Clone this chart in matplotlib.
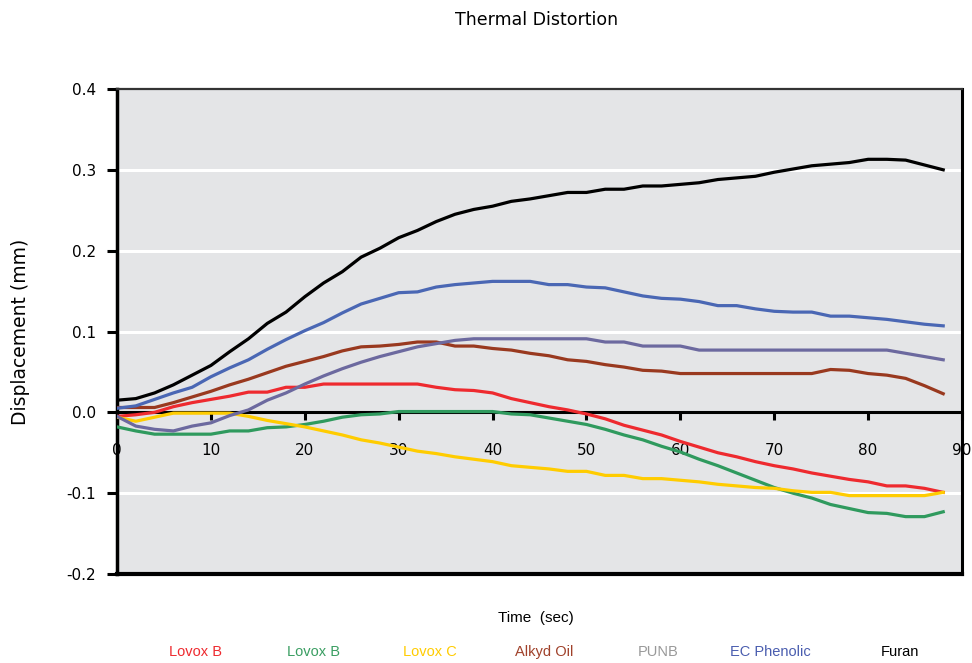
import numpy as np
import matplotlib
matplotlib.use('Agg')
from matplotlib import pyplot as plt

# tempo (s), leitura a cada 2 s
time_s = list(range(0, 89, 2))

lovox_b_red = [-0.005, -0.003, 0.000, 0.007, 0.012, 0.016, 0.020, 0.025, 0.025, 0.031,
               0.031, 0.035, 0.035, 0.035, 0.035, 0.035, 0.035, 0.031, 0.028, 0.027,
               0.024, 0.017, 0.012, 0.007, 0.003, -0.002, -0.008, -0.016, -0.022, -0.028,
               -0.036, -0.043, -0.050, -0.055, -0.061, -0.066, -0.070, -0.075, -0.079, -0.083,
               -0.086, -0.091, -0.091, -0.094, -0.099]
lovox_b_green = [-0.018, -0.023, -0.027, -0.027, -0.027, -0.027, -0.023, -0.023, -0.019, -0.018,
                 -0.015, -0.011, -0.006, -0.003, -0.002, 0.001, 0.001, 0.001, 0.001, 0.001,
                 0.001, -0.002, -0.003, -0.007, -0.011, -0.015, -0.021, -0.028, -0.034, -0.042,
                 -0.049, -0.058, -0.066, -0.075, -0.084, -0.093, -0.100, -0.106, -0.114, -0.119,
                 -0.124, -0.125, -0.129, -0.129, -0.123]
lovox_c = [-0.006, -0.011, -0.006, -0.001, -0.001, -0.001, -0.001, -0.005, -0.010, -0.014,
           -0.018, -0.023, -0.028, -0.034, -0.038, -0.043, -0.048, -0.051, -0.055, -0.058,
           -0.061, -0.066, -0.068, -0.070, -0.073, -0.073, -0.078, -0.078, -0.082, -0.082,
           -0.084, -0.086, -0.089, -0.091, -0.093, -0.094, -0.097, -0.099, -0.099, -0.103,
           -0.103, -0.103, -0.103, -0.103, -0.099]
alkyd_oil = [0.006, 0.006, 0.006, 0.012, 0.019, 0.026, 0.034, 0.041, 0.049, 0.057,
             0.063, 0.069, 0.076, 0.081, 0.082, 0.084, 0.087, 0.087, 0.082, 0.082,
             0.079, 0.077, 0.073, 0.070, 0.065, 0.063, 0.059, 0.056, 0.052, 0.051,
             0.048, 0.048, 0.048, 0.048, 0.048, 0.048, 0.048, 0.048, 0.053, 0.052,
             0.048, 0.046, 0.042, 0.033, 0.023]
punb = [-0.005, -0.017, -0.021, -0.023, -0.017, -0.013, -0.004, 0.003, 0.015, 0.024,
        0.035, 0.045, 0.054, 0.062, 0.069, 0.075, 0.081, 0.085, 0.089, 0.091,
        0.091, 0.091, 0.091, 0.091, 0.091, 0.091, 0.087, 0.087, 0.082, 0.082,
        0.082, 0.077, 0.077, 0.077, 0.077, 0.077, 0.077, 0.077, 0.077, 0.077,
        0.077, 0.077, 0.073, 0.069, 0.065]
ec_phenolic = [0.005, 0.008, 0.016, 0.024, 0.031, 0.044, 0.055, 0.065, 0.078, 0.090,
               0.101, 0.111, 0.123, 0.134, 0.141, 0.148, 0.149, 0.155, 0.158, 0.160,
               0.162, 0.162, 0.162, 0.158, 0.158, 0.155, 0.154, 0.149, 0.144, 0.141,
               0.140, 0.137, 0.132, 0.132, 0.128, 0.125, 0.124, 0.124, 0.119, 0.119,
               0.117, 0.115, 0.112, 0.109, 0.107]
furan = [0.015, 0.017, 0.024, 0.034, 0.046, 0.058, 0.075, 0.091, 0.110, 0.124,
         0.143, 0.160, 0.174, 0.192, 0.203, 0.216, 0.225, 0.236, 0.245, 0.251,
         0.255, 0.261, 0.264, 0.268, 0.272, 0.272, 0.276, 0.276, 0.280, 0.280,
         0.282, 0.284, 0.288, 0.290, 0.292, 0.297, 0.301, 0.305, 0.307, 0.309,
         0.313, 0.313, 0.312, 0.306, 0.300]

series_names = ['Lovox B', 'Lovox B', 'Lovox C', 'Alkyd Oil', 'PUNB', 'EC Phenolic', 'Furan']
series_data = [lovox_b_red, lovox_b_green, lovox_c, alkyd_oil, punb, ec_phenolic, furan]
line_colors = ['#EE2A2F', '#2F9A5E', '#FFCC00', '#99391F', '#6C699F', '#4A67B4', '#000000']
legend_colors = ['#EE2A2F', '#3A9E62', '#FFCC00', '#A0412A', '#999999', '#4A5DAF', '#000000']

y_ticks = [-0.2, -0.1, 0.0, 0.1, 0.2, 0.3, 0.4]
x_ticks = [0, 10, 20, 30, 40, 50, 60, 70, 80, 90]

fig = plt.figure(figsize=(9.72, 6.63), dpi=100)
ax = fig.add_axes([0.1204, 0.1342, 0.8693, 0.7316])
ax.set_facecolor('#E4E5E7')

for yv in [-0.1, 0.1, 0.2, 0.3]:
    ax.axhline(yv, color='white', lw=2.2, zorder=1)

for name, vals, col in zip(series_names, series_data, line_colors):
    ax.plot(time_s, vals, color=col, lw=2.3, zorder=3)

ax.set_xlim(0, 90)
ax.set_ylim(-0.2, 0.4)

# eixo x passa pelo zero, borda inferior desenhada à parte
ax.spines['bottom'].set_position(('data', 0))
ax.spines['bottom'].set_linewidth(2.2)
ax.spines['bottom'].set_zorder(2.8)
ax.axhline(-0.2, color='black', lw=3, clip_on=False, zorder=4)
ax.spines['left'].set_linewidth(2.5)
ax.spines['right'].set_linewidth(2.2)
ax.spines['top'].set_linewidth(1.6)
ax.spines['top'].set_color('#333333')

ax.set_xticks(x_ticks)
ax.set_xticklabels([str(t) for t in x_ticks])
ax.tick_params(axis='x', direction='out', length=6, width=2.2, pad=16, labelsize=11)
ax.set_yticks(y_ticks)
ax.set_yticklabels(['%.1f' % v for v in y_ticks])
ax.tick_params(axis='y', direction='out', length=7, width=2.2, pad=8, labelsize=11)

fig.text(0.5525, 0.970, 'Thermal Distortion', ha='center', va='center', fontsize=12.5)
fig.text(0.021, 0.5, 'Displacement (mm)', ha='center', va='center', rotation=90, fontsize=13.5)
fig.text(0.5515, 0.068, 'Time  (sec)', ha='center', va='center', fontsize=11,
         family='Liberation Sans')

legend_x = [195, 313, 430, 544, 658, 770, 900]
for name, col, xp in zip(series_names, legend_colors, legend_x):
    fig.text(xp / 972, 1 - 652 / 663, name, color=col, ha='center', va='center',
             fontsize=10.5, family='Liberation Sans')

fig.savefig('out.png', dpi=100)
